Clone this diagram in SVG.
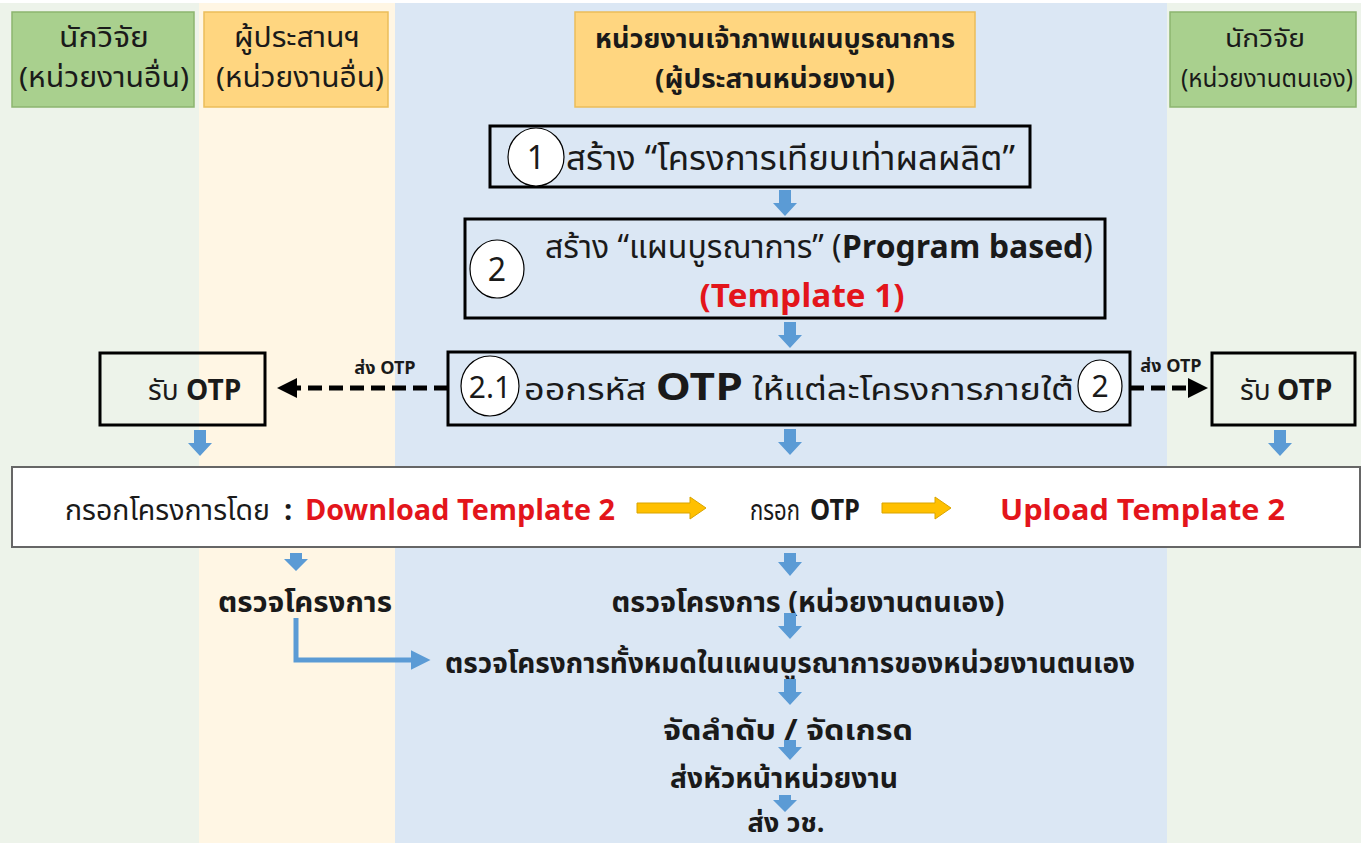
<svg xmlns="http://www.w3.org/2000/svg" width="1367" height="843" viewBox="0 0 1367 843">
<defs>
<style>
.t{font-family:"Noto Sans Thai","Leelawadee UI","Tahoma","DejaVu Sans",sans-serif;fill:#1a1a1a}
.b{font-weight:bold}
.red{fill:#e3151b;font-weight:bold}
.box{fill:none;stroke:#000;stroke-width:3}
.circ{fill:#fff;stroke:#000;stroke-width:1.2}
.ba{fill:#5b9bd5}
.ya{fill:#ffc000;stroke:#d9a400;stroke-width:1}
</style>
<path id="dn" d="M-6,0 H6 V13 H12 L0,26 L-12,13 H-6 Z"/>
<marker id="ah" markerWidth="4" markerHeight="4" refX="2" refY="2" orient="auto" markerUnits="strokeWidth"><path d="M0,0 L4,2 L0,4 Z" fill="#000"/></marker>
<marker id="bh" markerWidth="4" markerHeight="4" refX="1.5" refY="2" orient="auto" markerUnits="strokeWidth"><path d="M0,0 L4,2 L0,4 Z" fill="#5b9bd5"/></marker>
</defs>
<rect width="1367" height="843" fill="#fff"/>
<g id="lanes">
<rect x="0" y="3" width="199" height="840" fill="#edf3ea"/>
<rect x="199" y="3" width="196" height="840" fill="#fff6e4"/>
<rect x="395" y="3" width="772" height="840" fill="#dbe7f4"/>
<rect x="1167" y="3" width="194" height="840" fill="#edf3ea"/>
</g>
<g id="h1">
<rect x="12" y="12" width="182" height="95" fill="#a9d08e" stroke="#8cb56f" stroke-width="1.5"/>
<text class="t" x="104" y="47" font-size="28" text-anchor="middle" textLength="90" lengthAdjust="spacingAndGlyphs">นักวิจัย</text>
<text class="t" x="104" y="87" font-size="28" text-anchor="middle" textLength="170" lengthAdjust="spacingAndGlyphs">(หน่วยงานอื่น)</text>
</g>
<g id="h2">
<rect x="204" y="12" width="184" height="95" fill="#ffd680" stroke="#ebbd5a" stroke-width="1.5"/>
<text class="t" x="297" y="47" font-size="28" text-anchor="middle" textLength="126" lengthAdjust="spacingAndGlyphs">ผู้ประสานฯ</text>
<text class="t" x="300" y="87" font-size="28" text-anchor="middle" textLength="168" lengthAdjust="spacingAndGlyphs">(หน่วยงานอื่น)</text>
</g>
<g id="h3">
<rect x="575" y="12" width="400" height="95" fill="#ffd680" stroke="#ebbd5a" stroke-width="1.5"/>
<text class="t b" x="775" y="48" font-size="27" text-anchor="middle" textLength="360" lengthAdjust="spacingAndGlyphs">หน่วยงานเจ้าภาพแผนบูรณาการ</text>
<text class="t b" x="775" y="88" font-size="27" text-anchor="middle" textLength="240" lengthAdjust="spacingAndGlyphs">(ผู้ประสานหน่วยงาน)</text>
</g>
<g id="h4">
<rect x="1170" y="12" width="186" height="95" fill="#a9d08e" stroke="#8cb56f" stroke-width="1.5"/>
<text class="t" x="1265" y="47" font-size="25" text-anchor="middle" textLength="80" lengthAdjust="spacingAndGlyphs">นักวิจัย</text>
<text class="t" x="1267" y="87" font-size="25" text-anchor="middle" textLength="172" lengthAdjust="spacingAndGlyphs">(หน่วยงานตนเอง)</text>
</g>
<g id="n1">
<rect class="box" x="490" y="126" width="540" height="61"/>
<ellipse class="circ" cx="536" cy="157" rx="28" ry="29"/>
<text class="t" x="536" y="169" font-size="32" text-anchor="middle">1</text>
<text class="t" x="566" y="170" font-size="34" textLength="449" lengthAdjust="spacingAndGlyphs">สร้าง “โครงการเทียบเท่าผลผลิต”</text>
</g>
<g id="n2">
<rect class="box" x="465" y="219" width="640" height="99"/>
<ellipse class="circ" cx="497" cy="269" rx="27" ry="29"/>
<text class="t" x="497" y="281" font-size="32" text-anchor="middle">2</text>
<text class="t" x="545" y="258" font-size="32">สร้าง “แผนบูรณาการ” (<tspan class="b">Program based</tspan>)</text>
<text class="t red" x="802" y="307" font-size="32" text-anchor="middle" textLength="205" lengthAdjust="spacingAndGlyphs">(Template 1)</text>
</g>
<g id="n21">
<rect class="box" x="448" y="352" width="682" height="73"/>
<ellipse class="circ" cx="490" cy="386" rx="29" ry="30"/>
<text class="t" x="490" y="398" font-size="30" text-anchor="middle">2.1</text>
<text class="t" x="524" y="400" font-size="31" textLength="550" lengthAdjust="spacingAndGlyphs">ออกรหัส <tspan class="b" font-size="38">OTP</tspan> ให้แต่ละโครงการภายใต้</text>
<ellipse class="circ" cx="1100" cy="386" rx="22" ry="26"/>
<text class="t" x="1100" y="397" font-size="30" text-anchor="middle">2</text>
</g>
<g id="rl">
<rect class="box" x="100" y="353" width="165" height="72"/>
<text class="t" x="148" y="400" font-size="28">รับ</text>
<text class="t b" x="186" y="400" font-size="28">OTP</text>
</g>
<g id="rr">
<rect class="box" x="1212" y="353" width="143" height="72"/>
<text class="t" x="1240" y="400" font-size="28">รับ</text>
<text class="t b" x="1277" y="400" font-size="28">OTP</text>
</g>
<g id="fill">
<rect x="12" y="467" width="1348" height="80" fill="#fff" stroke="#666" stroke-width="2"/>
<text class="t" x="65" y="520" font-size="29" textLength="205" lengthAdjust="spacingAndGlyphs">กรอกโครงการโดย</text>
<text class="t b" x="284" y="520" font-size="29">:</text>
<text class="t red" x="305" y="520" font-size="29" textLength="310" lengthAdjust="spacingAndGlyphs">Download Template 2</text>
<text class="t" x="750" y="520" font-size="29" textLength="50" lengthAdjust="spacingAndGlyphs">กรอก</text>
<text class="t b" x="810" y="520" font-size="29" textLength="50" lengthAdjust="spacingAndGlyphs">OTP</text>
<text class="t red" x="1000" y="520" font-size="29" textLength="285" lengthAdjust="spacingAndGlyphs">Upload Template 2</text>
</g>
<g id="chk1"><text class="t b" x="305" y="612" font-size="28" text-anchor="middle" textLength="174" lengthAdjust="spacingAndGlyphs">ตรวจโครงการ</text></g>
<g id="chk2"><text class="t b" x="808" y="612" font-size="28" text-anchor="middle" textLength="393" lengthAdjust="spacingAndGlyphs">ตรวจโครงการ (หน่วยงานตนเอง)</text></g>
<g id="chk3"><text class="t b" x="790" y="673" font-size="28" text-anchor="middle" textLength="690" lengthAdjust="spacingAndGlyphs">ตรวจโครงการทั้งหมดในแผนบูรณาการของหน่วยงานตนเอง</text></g>
<g id="grade"><text class="t b" x="788" y="740" font-size="28" text-anchor="middle" textLength="250" lengthAdjust="spacingAndGlyphs">จัดลำดับ / จัดเกรด</text></g>
<g id="head"><text class="t b" x="784" y="788" font-size="28" text-anchor="middle" textLength="228" lengthAdjust="spacingAndGlyphs">ส่งหัวหน้าหน่วยงาน</text></g>
<g id="nrct"><text class="t b" x="786" y="832" font-size="27" text-anchor="middle" textLength="77" lengthAdjust="spacingAndGlyphs">ส่ง วช.</text></g>
<g id="connectors">
<use href="#dn" class="ba" x="785" y="190"/>
<use href="#dn" class="ba" x="790" y="322"/>
<use href="#dn" class="ba" x="200" y="430"/>
<use href="#dn" class="ba" x="790" y="429"/>
<use href="#dn" class="ba" x="1280" y="430"/>
<path class="ba" d="M290,553 H302 V559 H308 L296,571 L284,559 H290 Z"/>
<path class="ba" d="M784,553 H796 V562 H802 L790,576 L778,562 H784 Z"/>
<use href="#dn" class="ba" x="790" y="613"/>
<use href="#dn" class="ba" x="790" y="679"/>
<path class="ba" d="M784,740 H796 V747 H802 L790,760 L778,747 H784 Z"/>
<path class="ba" d="M779,795 H791 V800 H797 L785,812 L773,800 H779 Z"/>
<path d="M296,618 V660 H418" fill="none" stroke="#5b9bd5" stroke-width="5" marker-end="url(#bh)"/>
<line x1="448" y1="388" x2="287" y2="388" stroke="#000" stroke-width="5" stroke-dasharray="14,7" marker-end="url(#ah)"/>
<text class="t b" x="385" y="374" font-size="18" text-anchor="middle">ส่ง OTP</text>
<line x1="1130" y1="388" x2="1198" y2="388" stroke="#000" stroke-width="5" stroke-dasharray="14,7" marker-end="url(#ah)"/>
<text class="t b" x="1171" y="372" font-size="18" text-anchor="middle">ส่ง OTP</text>
<path class="ya" d="M637,503 H690 V497 L706,508 L690,519 V513 H637 Z"/>
<path class="ya" d="M882,503 H935 V497 L951,508 L935,519 V513 H882 Z"/>
</g>
</svg>
